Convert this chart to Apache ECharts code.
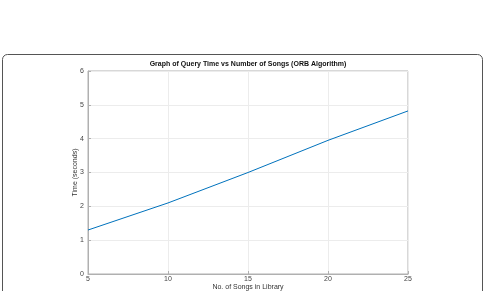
<!DOCTYPE html>
<html>
<head>
<meta charset="utf-8">
<script src="https://cdn.jsdelivr.net/npm/echarts@6/dist/echarts.min.js"></script>
<style>
    html, body { margin: 0; padding: 0; background: #fff; }
    #chart { width: 486px; height: 291px; }
</style>
</head>
<body>
<div id="chart"></div>
<script>
// songs in library vs query time
const songs = [5, 10, 15, 20, 25];
const queryTime = [1.3, 2.1, 3.0, 3.95, 4.82];
const xTicks = [5, 10, 15, 20, 25];
const yTicks = [0, 1, 2, 3, 4, 5, 6];

const font = 'Liberation Sans';
const chart = echarts.init(document.getElementById('chart'));

const option = {
    animation: false,
    backgroundColor: '#fff',
    title: {
        text: 'Graph of Query Time vs Number of Songs (ORB Algorithm)',
        left: 248,
        top: 61,
        padding: 0,
        textAlign: 'center',
        textStyle: { fontFamily: font, fontSize: 7, fontWeight: 'bold', color: '#111' }
    },
    graphic: [{
        type: 'rect',
        shape: { x: 2.5, y: 54.5, width: 480, height: 260, r: 5 },
        style: { fill: 'none', stroke: '#555', lineWidth: 1 },
        silent: true
    }],
    grid: {
        left: 88, right: 78, top: 71, bottom: 17,
        outerBoundsMode: 'none',
        containLabel: false,
        show: true, borderColor: '#b0b0b0', borderWidth: 1
    },
    xAxis: {
        type: 'value',
        min: xTicks[0],
        max: xTicks[xTicks.length - 1],
        interval: 5,
        name: 'No. of Songs in Library',
        nameLocation: 'middle',
        nameGap: 10,
        nameMoveOverlap: false,
        nameTextStyle: { fontFamily: font, fontSize: 7, color: '#333' },
        axisLine: { lineStyle: { color: '#b0b0b0' } },
        axisTick: { inside: true, length: 3, lineStyle: { color: '#b0b0b0' } },
        axisLabel: { fontFamily: font, fontSize: 7, color: '#444', margin: 2 },
        splitLine: { lineStyle: { color: '#ececec' } }
    },
    yAxis: {
        type: 'value',
        min: yTicks[0],
        max: yTicks[yTicks.length - 1],
        interval: 1,
        name: 'Time (seconds)',
        nameLocation: 'middle',
        nameGap: 9,
        nameMoveOverlap: false,
        nameTextStyle: { fontFamily: font, fontSize: 7, color: '#333' },
        axisLine: { show: true, lineStyle: { color: '#b0b0b0' } },
        axisTick: { show: true, inside: true, length: 3, lineStyle: { color: '#b0b0b0' } },
        axisLabel: { fontFamily: font, fontSize: 7, color: '#444', margin: 4 },
        splitLine: { lineStyle: { color: '#ececec' } }
    },
    series: [{
        type: 'line',
        data: songs.map((s, i) => [s, queryTime[i]]),
        showSymbol: false,
        lineStyle: { color: '#0072BD', width: 1 },
        itemStyle: { color: '#0072BD' }
    }]
};

chart.setOption(option);
</script>
</body>
</html>
